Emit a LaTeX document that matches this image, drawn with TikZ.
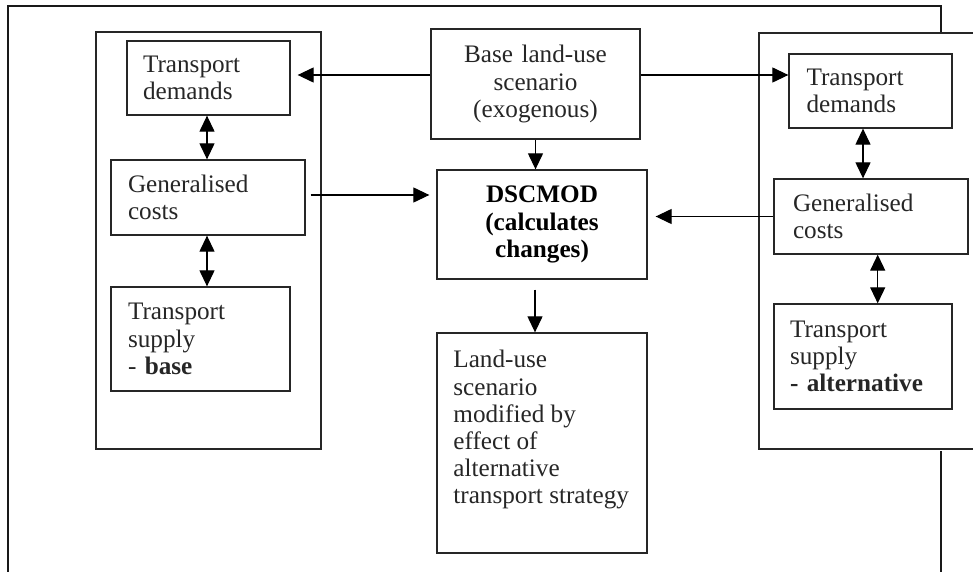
\documentclass[tikz,border=0pt]{standalone}
\usepackage{fontspec}
\setmainfont{Liberation Serif}
\usetikzlibrary{arrows.meta}
\newcommand{\txtfont}{\fontsize{12.6pt}{13.6pt}\selectfont}
\begin{document}
\begin{tikzpicture}[x=0.5pt,y=-0.5pt,
  box/.style={draw=black!85, line width=0.65pt, rectangle, inner ysep=0pt,
    font=\txtfont, text=black!85},
  lbox/.style={box, align=left},
  cbox/.style={box, align=center, inner xsep=0pt},
  arr/.style={-{Triangle[length=8pt,width=7.5pt]}, line width=0.6pt},
  darr/.style={{Triangle[length=8pt,width=7.5pt]}-{Triangle[length=8pt,width=7.5pt]}, line width=0.6pt},
  frame/.style={line width=1pt, draw=black!90},
  group/.style={line width=0.65pt, draw=black!85}]
\useasboundingbox (0,0) rectangle (973,572);

% outer frame
\draw[frame] (8,572) -- (8,6) -- (941,6) -- (941,33);
\draw[frame] (941,451) -- (941,572);

% base-case and alternative-case groups
\draw[group] (96,32) rectangle (321,449);
\draw[group] (973,33) -- (759,33) -- (759,449) -- (973,449);

% base case
\node[lbox, text width=65.5pt, inner xsep=8pt, minimum height=37pt] (ldem) at (208.5,78) {Transport\\demands};
\node[lbox, text width=80pt, inner xsep=8.5pt, minimum height=37.5pt] (lgen) at (208,197.5) {Generalised\\costs};
\node[lbox, text width=72.5pt, inner xsep=8.5pt, minimum height=52pt] (lsup) at (200.5,339) {Transport\\supply\\- \textbf{base}};

% centre column
\node[cbox, text width=104.5pt, minimum height=55pt] (base) at (535.5,84) {Base land-use\\scenario\\(exogenous)};
\node[cbox, text width=105pt, minimum height=54.5pt, font=\txtfont\bfseries, text=black] (dsc) at (542,224.5) {DSCMOD\\(calculates\\changes)};
\node[box, minimum width=105pt, minimum height=110pt] (lu) at (542,443) {};
\node[anchor=north west, inner sep=0pt, align=left, font=\txtfont, text=black!85] (lutext) at (453,350)
  {Land-use\\scenario\\modified by\\effect of\\alternative\\transport strategy};

% alternative case
\node[lbox, text width=64pt, inner xsep=8.75pt, minimum height=37pt] (rdem) at (870.5,91) {Transport\\demands};
\node[lbox, text width=78pt, inner xsep=9.5pt, minimum height=37.5pt] (rgen) at (871,216.5) {Generalised\\costs};
\node[lbox, text width=73pt, inner xsep=8pt, minimum height=52.5pt] (rsup) at (863,356.5) {Transport\\supply\\\textbf{- alternative}};

% connectors
\draw[arr, shorten >=3.5pt] ([yshift=4.5pt]base.west) -- ([yshift=4.5pt]base.west -| ldem.east);
\draw[arr] ([yshift=4.5pt]base.east) -- ([yshift=4.5pt]base.east -| rdem.west);
\draw[arr] (base.south) -- (base.south |- dsc.north);
\draw[arr, shorten <=2.5pt, shorten >=3.5pt] ([yshift=1.25pt]lgen.east) -- ([yshift=1.25pt]lgen.east -| dsc.west);
\draw[arr, shorten >=4pt] (rgen.west) -- (rgen.west -| dsc.east);
\draw[arr, shorten <=5pt] ([xshift=-3.5pt]dsc.south) -- ([xshift=-3.5pt]dsc.south |- lu.north);
\draw[darr] ([xshift=-0.75pt]ldem.south) -- ([xshift=-0.75pt]ldem.south |- lgen.north);
\draw[darr] ([xshift=-0.5pt]lgen.south) -- ([xshift=-0.5pt]lgen.south |- lsup.north);
\draw[darr] ([xshift=-3.75pt]rdem.south) -- ([xshift=-3.75pt]rdem.south |- rgen.north);
\draw[darr] ([xshift=3.35pt]rgen.south) -- ([xshift=3.35pt]rgen.south |- rsup.north);
\end{tikzpicture}
\end{document}
